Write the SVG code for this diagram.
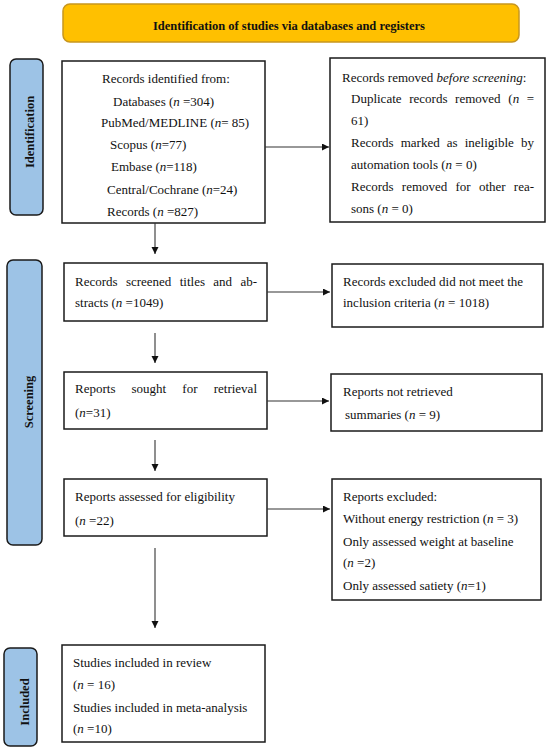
<svg xmlns="http://www.w3.org/2000/svg" width="550" height="751" viewBox="0 0 550 751">
<style>
.t{font-family:"Liberation Serif","Times New Roman",serif;font-size:13px;fill:#111}
.b{font-family:"Liberation Serif","Times New Roman",serif;font-size:12.5px;font-weight:bold;fill:#111}
.box{fill:#fff;stroke:#1a1a1a;stroke-width:1.5}
.side{fill:#9DC3E6;stroke:#1a1a1a;stroke-width:1.5}
.con{stroke:#333;stroke-width:1.1;fill:none;marker-end:url(#ah)}
.e{text-anchor:end}
</style>
<defs>
<marker id="ah" markerWidth="8" markerHeight="8" refX="7" refY="3.5" orient="auto" markerUnits="userSpaceOnUse">
<path d="M0,0 L7,3.5 L0,7 Z" fill="#111"/>
</marker>
</defs>
<rect width="550" height="751" fill="#fff"/>

<g id="header">
<rect x="63" y="4" width="456" height="38" rx="7" fill="#FFC000" stroke="#C8961E" stroke-width="1.5"/>
<text class="b" x="289" y="30" text-anchor="middle">Identification of studies via databases and registers</text>
</g>

<g id="lbl-identification">
<rect class="side" x="10" y="59" width="33" height="156" rx="6"/>
<text class="b" transform="translate(34,132) rotate(-90)" text-anchor="middle">Identification</text>
</g>
<g id="lbl-screening">
<rect class="side" x="7" y="260" width="35" height="285" rx="6"/>
<text class="b" transform="translate(33,402) rotate(-90)" text-anchor="middle">Screening</text>
</g>
<g id="lbl-included">
<rect class="side" x="4" y="648" width="33" height="98" rx="6"/>
<text class="b" transform="translate(29,702) rotate(-90)" text-anchor="middle">Included</text>
</g>

<g id="records-identified">
<rect class="box" x="62" y="61" width="203" height="162"/>
<text class="t" x="102" y="83">Records identified from:</text>
<text class="t" x="113" y="106">Databases (<tspan font-style="italic">n</tspan> =304)</text>
<text class="t" x="101" y="127">PubMed/MEDLINE (<tspan font-style="italic">n</tspan>= 85)</text>
<text class="t" x="110" y="149">Scopus (<tspan font-style="italic">n</tspan>=77)</text>
<text class="t" x="111" y="171">Embase (<tspan font-style="italic">n</tspan>=118)</text>
<text class="t" x="107" y="194">Central/Cochrane (<tspan font-style="italic">n</tspan>=24)</text>
<text class="t" x="107" y="216">Records (<tspan font-style="italic">n</tspan> =827)</text>
</g>

<g id="records-removed">
<rect class="box" x="330" y="58" width="215" height="164"/>
<text class="t" x="342" y="82">Records removed <tspan font-style="italic">before screening</tspan>:</text>
<text class="t" x="351" y="103">Duplicate</text>
<text class="t" x="409.2" y="103">records</text>
<text class="t" x="455.1" y="103">removed</text>
<text class="t" x="508.3" y="103">(<tspan font-style="italic">n</tspan></text>
<text class="t e" x="534" y="103">=</text>
<text class="t" x="351" y="125">61)</text>
<text class="t" x="351" y="147">Records</text>
<text class="t" x="400.7" y="147">marked</text>
<text class="t" x="446.8" y="147">as</text>
<text class="t" x="464.7" y="147">ineligible</text>
<text class="t e" x="534" y="147">by</text>
<text class="t" x="351" y="169">automation tools (<tspan font-style="italic">n</tspan> = 0)</text>
<text class="t" x="351" y="191">Records</text>
<text class="t" x="401.8" y="191">removed</text>
<text class="t" x="455.5" y="191">for</text>
<text class="t" x="478.9" y="191">other</text>
<text class="t e" x="534" y="191">rea-</text>
<text class="t" x="351" y="213">sons (<tspan font-style="italic">n</tspan> = 0)</text>
</g>

<g id="records-screened">
<rect class="box" x="64" y="263" width="203" height="58"/>
<text class="t" x="75" y="286">Records</text>
<text class="t" x="125.9" y="286">screened</text>
<text class="t" x="179.7" y="286">titles</text>
<text class="t" x="213.3" y="286">and</text>
<text class="t e" x="257" y="286">ab-</text>
<text class="t" x="75" y="307">stracts (<tspan font-style="italic">n</tspan> =1049)</text>
</g>

<g id="records-excluded">
<rect class="box" x="332" y="264" width="211" height="63"/>
<text class="t" x="343" y="286">Records excluded did not meet the</text>
<text class="t" x="343" y="307">inclusion criteria (<tspan font-style="italic">n</tspan> = 1018)</text>
</g>

<g id="reports-sought">
<rect class="box" x="64" y="372" width="203" height="57"/>
<text class="t" x="75" y="393">Reports</text>
<text class="t" x="131.5" y="393">sought</text>
<text class="t" x="182.3" y="393">for</text>
<text class="t e" x="257" y="393">retrieval</text>
<text class="t" x="75" y="417">(<tspan font-style="italic">n</tspan>=31)</text>
</g>

<g id="reports-not-retrieved">
<rect class="box" x="331" y="374" width="211" height="57"/>
<text class="t" x="343" y="396">Reports not retrieved</text>
<text class="t" x="345" y="419">summaries (<tspan font-style="italic">n</tspan> = 9)</text>
</g>

<g id="reports-assessed">
<rect class="box" x="64" y="479" width="203" height="57"/>
<text class="t" x="75" y="501">Reports assessed for eligibility</text>
<text class="t" x="75" y="525">(<tspan font-style="italic">n</tspan> =22)</text>
</g>

<g id="reports-excluded">
<rect class="box" x="332" y="479" width="209" height="121"/>
<text class="t" x="343" y="501">Reports excluded:</text>
<text class="t" x="343" y="523">Without energy restriction (<tspan font-style="italic">n</tspan> = 3)</text>
<text class="t" x="343" y="546">Only assessed weight at baseline</text>
<text class="t" x="343" y="567">(<tspan font-style="italic">n</tspan> =2)</text>
<text class="t" x="343" y="590">Only assessed satiety (<tspan font-style="italic">n</tspan>=1)</text>
</g>

<g id="studies-included">
<rect class="box" x="62" y="645" width="203" height="97"/>
<text class="t" x="73" y="667">Studies included in review</text>
<text class="t" x="73" y="689">(<tspan font-style="italic">n</tspan> = 16)</text>
<text class="t" x="73" y="712">Studies included in meta-analysis</text>
<text class="t" x="73" y="733">(<tspan font-style="italic">n</tspan> =10)</text>
</g>

<g id="connectors">
<line class="con" x1="265" y1="147" x2="329" y2="147"/>
<line class="con" x1="155" y1="223" x2="155" y2="254"/>
<line class="con" x1="267" y1="292" x2="330" y2="292"/>
<line class="con" x1="155" y1="333" x2="155" y2="363"/>
<line class="con" x1="267" y1="401" x2="329" y2="401"/>
<line class="con" x1="155" y1="440" x2="155" y2="471"/>
<line class="con" x1="267" y1="509" x2="330" y2="509"/>
<line class="con" x1="155" y1="548" x2="155" y2="628"/>
</g>
</svg>
